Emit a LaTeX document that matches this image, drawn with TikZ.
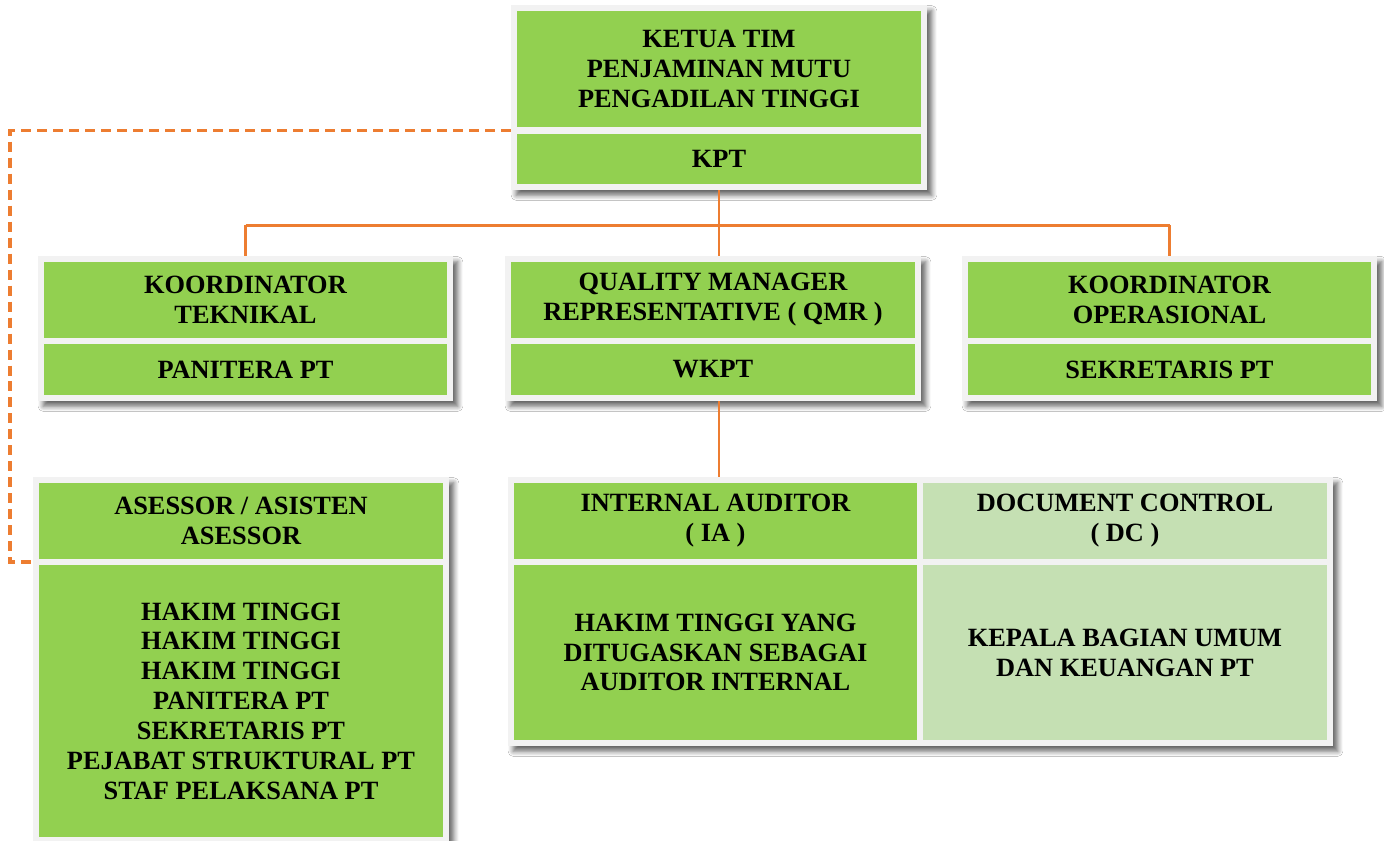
\documentclass[tikz,border=0pt]{standalone}
\usepackage{fontspec}
\setmainfont{Liberation Serif}
\usetikzlibrary{fit,backgrounds,calc,shadows.blur}
\definecolor{hijau}{HTML}{92D050}
\definecolor{hijaumuda}{HTML}{C5E0B3}
\definecolor{oranye}{HTML}{ED7D31}
\definecolor{abu}{HTML}{F2F2F2}
\tikzstyle{sel}=[fill=hijau,align=center,inner sep=0pt,font=\bfseries\fontsize{15}{17}\selectfont]
\tikzstyle{selmuda}=[sel,fill=hijaumuda]
\tikzstyle{blok}=[fill=abu,inner sep=0.11cm,blur shadow={shadow xshift=0.1cm,shadow yshift=-0.11cm,shadow blur radius=0.1cm,shadow blur steps=6,shadow opacity=60}]
\tikzstyle{garis}=[oranye,line width=1.7pt]
\tikzstyle{putus}=[oranye,line width=2.2pt,dash pattern=on 0.2cm off 0.12cm]

\begin{document}
\begin{tikzpicture}[x=0.02cm,y=-0.02cm]
    \useasboundingbox (0,0) rectangle (1384,840);
    \node[sel,minimum width=8.08cm,minimum height=2.32cm] (ketua) at (719,69)
    {KETUA TIM\\PENJAMINAN MUTU\\PENGADILAN TINGGI};
    \node[sel,minimum width=8.08cm,minimum height=1cm] (kpt) at (719,159) {KPT};
    \node[sel,minimum width=8.06cm,minimum height=1.52cm] (teknikal) at (245.5,300)
    {KOORDINATOR\\TEKNIKAL};
    \node[sel,minimum width=8.06cm,minimum height=1.02cm] (panitera) at (245.5,369.5) {PANITERA PT};
    \node[sel,minimum width=8.08cm,minimum height=1.52cm] (qmr) at (713,300)
    {QUALITY MANAGER\\REPRESENTATIVE ( QMR )};
    \node[sel,minimum width=8.08cm,minimum height=1.02cm] (wkpt) at (713,369.5) {WKPT};
    \node[sel,minimum width=8.06cm,minimum height=1.52cm] (operasional) at (1169.5,300)
    {KOORDINATOR\\OPERASIONAL};
    \node[sel,minimum width=8.06cm,minimum height=1.02cm] (sekretaris) at (1169.5,369.5) {SEKRETARIS PT};
    \node[sel,minimum width=8.08cm,minimum height=1.52cm] (asesor) at (241,521)
    {ASESSOR / ASISTEN\\ASESSOR};
    \node[sel,minimum width=8.08cm,minimum height=5.44cm] (anggota) at (241,701)
    {HAKIM TINGGI\\HAKIM TINGGI\\HAKIM TINGGI\\PANITERA PT\\SEKRETARIS PT\\PEJABAT STRUKTURAL PT\\STAF PELAKSANA PT};
    \node[sel,minimum width=8.06cm,minimum height=1.52cm] (ia) at (715.5,521)
    {INTERNAL AUDITOR\\( IA )};
    \node[sel,minimum width=8.06cm,minimum height=3.5cm] (iaisi) at (715.5,652.5)
    {HAKIM TINGGI YANG\\DITUGASKAN SEBAGAI\\AUDITOR INTERNAL};
    \node[selmuda,minimum width=8.08cm,minimum height=1.52cm] (dc) at (1125,521)
    {DOCUMENT CONTROL\\( DC )};
    \node[selmuda,minimum width=8.08cm,minimum height=3.5cm] (dcisi) at (1125,652.5)
    {KEPALA BAGIAN UMUM\\DAN KEUANGAN PT};
    \begin{scope}[on background layer]
    \fill[white] (0,0) rectangle (1384,840);
    \node[blok,fit=(ketua)(kpt)] (blokketua) {};
    \node[blok,fit=(teknikal)(panitera)] (blokteknikal) {};
    \node[blok,fit=(qmr)(wkpt)] (blokqmr) {};
    \node[blok,fit=(operasional)(sekretaris)] (blokoperasional) {};
    \node[blok,fit=(asesor)(anggota)] (blokasesor) {};
    \node[blok,fit=(ia)(dcisi)] (blokaudit) {};
    \end{scope}
    \coordinate (bus) at (0,225);
    \coordinate (pinggir) at (10,300);
    \draw[garis] (blokketua.south) -- (blokketua.south |- blokqmr.north);
    \draw[garis] (blokteknikal.north |- bus) -- (blokoperasional.north |- bus);
    \draw[garis] (blokteknikal.north |- bus) -- (blokteknikal.north);
    \draw[garis] (blokoperasional.north |- bus) -- (blokoperasional.north);
    \draw[garis] (blokketua.south |- blokqmr.south) -- (blokketua.south |- blokaudit.north);
    \draw[putus] (blokketua.west |- {$(ketua.south)!.5!(kpt.north)$}) -| (pinggir)
    |- (blokasesor.west |- {$(asesor.south)!.5!(anggota.north)$});
  \end{tikzpicture}
\end{document}
